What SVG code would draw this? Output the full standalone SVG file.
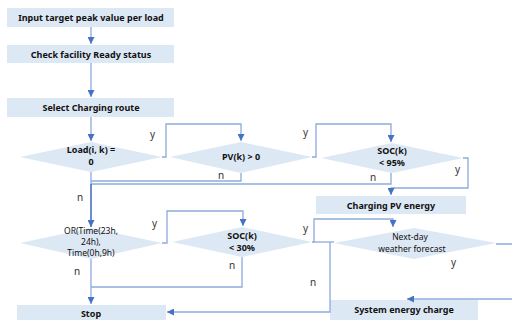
<svg xmlns="http://www.w3.org/2000/svg" width="512" height="320" viewBox="0 0 512 320">
<style>
.box{fill:#dde8f5;stroke:none}
.t{font-family:"Noto Sans","Liberation Sans",sans-serif;font-size:9px;font-weight:bold;fill:#111;text-anchor:middle}
.tn{font-family:"Noto Sans","Liberation Sans",sans-serif;font-size:8.5px;fill:#111;text-anchor:middle}
.lbl{font-family:"Noto Sans","Liberation Sans",sans-serif;font-size:10px;fill:#333}
.c{fill:none;stroke:#8eaadc;stroke-width:1.3}
.cd{fill:none;stroke:#4472c4;stroke-width:1.6}
</style>
<defs>
<marker id="ah" viewBox="0 0 10 10" refX="10" refY="5" markerWidth="7" markerHeight="7" markerUnits="userSpaceOnUse" orient="auto">
<path d="M0,0 L10,5 L0,10 z" fill="#4472c4"/>
</marker>
</defs>
<g id="n1"><rect class="box" x="7" y="8" width="167" height="19"/><text class="t" x="91" y="21">Input target peak value per load</text></g>
<g id="n2"><rect class="box" x="7" y="45" width="167" height="18"/><text class="t" x="91" y="58">Check facility Ready status</text></g>
<g id="n3"><rect class="box" x="7" y="98" width="167" height="19"/><text class="t" x="91" y="111">Select Charging route</text></g>
<g id="d1"><polygon class="box" points="20,157 91,142 162,157 91,172"/><text class="t" x="91" y="153">Load(i, k) =</text><text class="t" x="91" y="165">0</text></g>
<g id="d2"><polygon class="box" points="170,157 241,142 312,157 241,173"/><text class="t" x="241" y="160">PV(k) &gt; 0</text></g>
<g id="d3"><polygon class="box" points="321,158 392,143 463,158 392,173"/><text class="t" x="392" y="154">SOC(k)</text><text class="t" x="392" y="166">&lt; 95%</text></g>
<g id="n4"><rect class="box" x="316" y="196" width="150" height="18"/><text class="t" x="391" y="209">Charging PV energy</text></g>
<g id="d4"><polygon class="box" points="20,243 91,228 162,243 91,259"/><text class="tn" x="91" y="234">OR(Time(23h,</text><text class="tn" x="91" y="245">24h),</text><text class="tn" x="91" y="256">Time(0h,9h)</text></g>
<g id="d5"><polygon class="box" points="172,242 242,227 312,242 242,257"/><text class="t" x="242" y="239">SOC(k)</text><text class="t" x="242" y="251">&lt; 30%</text></g>
<g id="d6"><polygon class="box" points="334,243 414,228 496,243 414,259"/><text class="tn" x="410" y="240">Next-day</text><text class="tn" x="412" y="252">weather forecast</text></g>
<g id="n5"><rect class="box" x="17" y="305" width="149" height="18"/><text class="t" x="91" y="317">Stop</text></g>
<g id="n6"><rect class="box" x="330" y="300" width="148" height="22"/><text class="t" x="404" y="313">System energy charge</text></g>
<g id="connectors">
<path class="c" d="M91,27 V44" marker-end="url(#ah)"/>
<path class="c" d="M91,63 V97" marker-end="url(#ah)"/>
<path class="c" d="M91,117 V141" marker-end="url(#ah)"/>
<path class="c" d="M162,157 H166 V124 H241 V141" marker-end="url(#ah)"/>
<path class="c" d="M312,157 H316 V124 H391 V142" marker-end="url(#ah)"/>
<path class="c" d="M241,173 V181 H91"/>
<path class="c" d="M391,173 V184 H91"/>
<path class="c" d="M91,172 V184"/>
<path class="cd" d="M91,184 V227" marker-end="url(#ah)"/>
<path class="c" d="M463,158 H468 V188 H391 V195" marker-end="url(#ah)"/>
<path class="c" d="M162,243 H167 V211 H243 V226" marker-end="url(#ah)"/>
<path class="c" d="M242,257 V287 H91"/>
<path class="c" d="M91,259 V304" marker-end="url(#ah)"/>
<path class="c" d="M312,242 H314 V219 H393 V227" marker-end="url(#ah)"/>
<path class="c" d="M314,242 H334"/>
<path class="c" d="M330,242 V312 H167" marker-end="url(#ah)"/>
<path class="c" d="M496,244 H516 V299 H407" marker-end="url(#ah)"/>
</g>
<g id="labels">
<text class="lbl" x="150" y="138">y</text>
<text class="lbl" x="303" y="136">y</text>
<text class="lbl" x="218" y="179">n</text>
<text class="lbl" x="370" y="181">n</text>
<text class="lbl" x="455" y="173">y</text>
<text class="lbl" x="77" y="201">n</text>
<text class="lbl" x="152" y="227">y</text>
<text class="lbl" x="229" y="269">n</text>
<text class="lbl" x="74" y="275">n</text>
<text class="lbl" x="303" y="232">y</text>
<text class="lbl" x="310" y="286">n</text>
<text class="lbl" x="451" y="266">y</text>
</g>
</svg>
